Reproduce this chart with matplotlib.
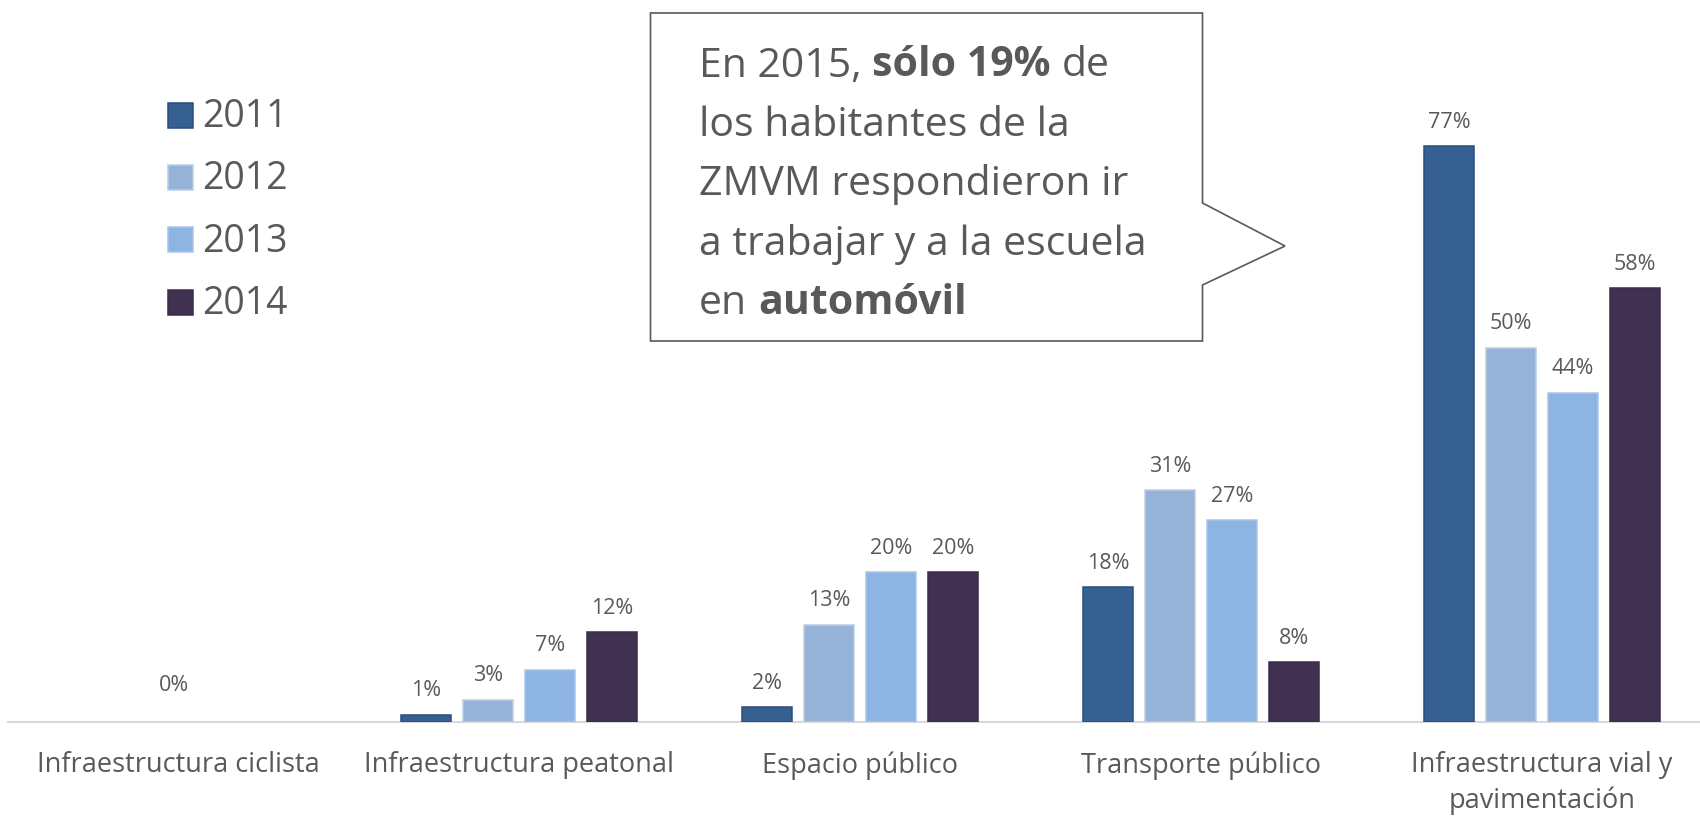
import numpy as np
import matplotlib
matplotlib.use("Agg")
import matplotlib.pyplot as plt
from matplotlib.patches import Polygon, Rectangle

plt.rcParams['font.family'] = ['Open Sans', 'DejaVu Sans']

# datos
categorias = ["Infraestructura ciclista", "Infraestructura peatonal", "Espacio público",
              "Transporte público", "Infraestructura vial y\npavimentación"]
anios = ["2011", "2012", "2013", "2014"]
v2011 = [np.nan, 1, 2, 18, 77]
v2012 = [np.nan, 3, 13, 31, 50]
v2013 = [np.nan, 7, 20, 27, 44]
v2014 = [np.nan, 12, 20, 8, 58]
ciclista = 0
series = [v2011, v2012, v2013, v2014]

colores = ["#376092", "#95B3D7", "#8EB4E3", "#403151"]
bordes = ["#2A4E7C", "#B9CDE5", "#A9C6EC", "#3A2C4A"]
gris = "#595959"

W, H = 1700, 817
fig = plt.figure(figsize=(W / 100, H / 100), dpi=100)

# ejes: centro de categoria 0 en x=178 px, paso 341 px, base en y=722 px
ax = fig.add_axes([7.5 / W, (H - 722) / H, 1705 / W, 80 * 7.48 / H])
ax.set_xlim(-0.5, 4.5)
ax.set_ylim(0, 80)

x = np.arange(len(categorias))
ancho = 0.1466
paso = 0.1818
for j, vals in enumerate(series):
    pos = x + (j - 1.5) * paso
    ax.bar(pos, vals, ancho, color=colores[j], edgecolor=bordes[j], linewidth=1.1, zorder=3)
    for p, v in zip(pos, vals):
        if np.isnan(v):
            continue
        ax.annotate(f"{v:.0f}%", (p, v), xytext=(0, 17.3), textcoords="offset points",
                    ha="center", va="center", fontsize=15.5, color=gris)

ax.annotate(f"{ciclista}%", (x[0], 0), xytext=(-3, 26.5), textcoords="offset points",
            ha="center", va="center", fontsize=15.5, color=gris)

for s in ["top", "left", "right"]:
    ax.spines[s].set_visible(False)
ax.spines["bottom"].set_color("#D9D9D9")
ax.spines["bottom"].set_linewidth(1.5)
ax.set_yticks([])
ax.set_xticks(x)
ax.set_xticklabels(categorias, fontsize=19.5, color=gris, linespacing=1.35)
ax.tick_params(axis="x", length=0, pad=21)


def fx(px):
    return px / W


def fy(py):
    return 1 - py / H


# leyenda manual
ley_y = [115, 177, 239.5, 302]
for j, a in enumerate(anios):
    fig.patches.append(Rectangle((fx(168), fy(ley_y[j] + 12.5)), 25 / W, 25 / H,
                                 transform=fig.transFigure, facecolor=colores[j],
                                 edgecolor=bordes[j], linewidth=1.1))
    fig.text(fx(202), fy(ley_y[j] + 12), a, fontsize=27, color=gris, va="baseline")

# globo de texto
globo = [(650.5, 13), (1202.5, 13), (1202.5, 203), (1285, 246), (1202.5, 285),
         (1202.5, 341), (650.5, 341)]
fig.patches.append(Polygon([(fx(a), fy(b)) for a, b in globo], closed=True,
                           transform=fig.transFigure, facecolor="white",
                           edgecolor=gris, linewidth=1.2))

renderer = fig.canvas.get_renderer()
fs = 29.5


def ancho_txt(s, peso):
    t = fig.text(0, 0, s, fontsize=fs, fontweight=peso)
    w = t.get_window_extent(renderer).width
    t.remove()
    return w


espacio = ancho_txt("x x", "normal") - ancho_txt("xx", "normal")
lineas = [
    [("En 2015,", "normal"), ("sólo 19%", "bold"), ("de", "normal")],
    [("los habitantes de la", "normal")],
    [("ZMVM respondieron ir", "normal")],
    [("a trabajar y a la escuela", "normal")],
    [("en", "normal"), ("automóvil", "bold")],
]
for i, partes in enumerate(lineas):
    xp = 699
    yb = 76.5 + i * 59.4
    for trozo, peso in partes:
        fig.text(fx(xp), fy(yb), trozo, fontsize=fs, fontweight=peso, color=gris,
                 va="baseline", ha="left")
        xp += ancho_txt(trozo, peso) + espacio

fig.savefig("out.png", dpi=100)
